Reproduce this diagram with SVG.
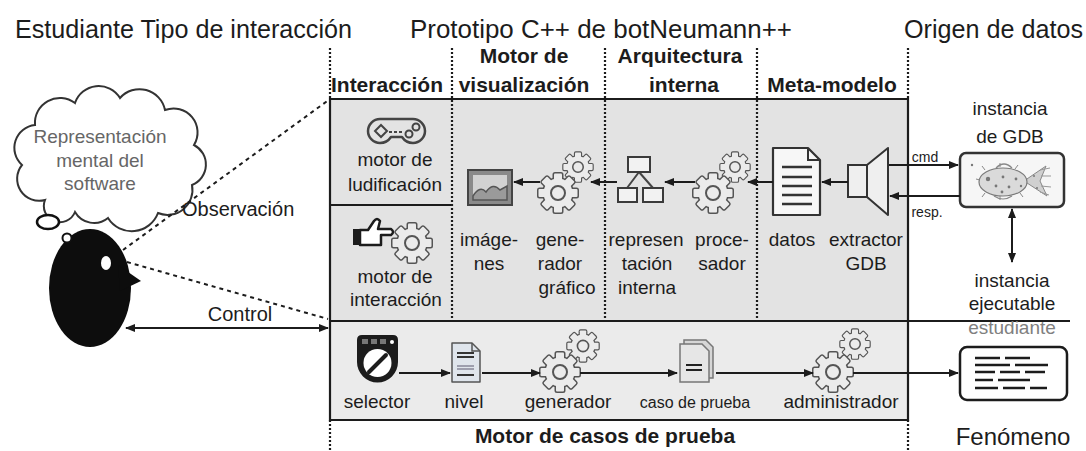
<svg xmlns="http://www.w3.org/2000/svg" xmlns:xlink="http://www.w3.org/1999/xlink" width="1086" height="451" viewBox="0 0 1086 451">
<style>
  .t{font-family:"Liberation Sans",Arial,sans-serif;fill:#1c1c1c}
  .title{font-size:25px}
  .hd{font-size:21px;font-weight:bold;text-anchor:middle}
  .lb{font-size:19px;text-anchor:middle}
  .frame{stroke:#1c1c1c;stroke-width:2.2;fill:none}
  .dot{stroke:#1c1c1c;stroke-width:2.2;stroke-dasharray:2 2;fill:none}
  .obs{stroke:#1c1c1c;stroke-width:2;stroke-dasharray:4 4;fill:none}
  .arr{stroke:#1c1c1c;stroke-width:2;fill:none;marker-end:url(#ah)}
  .arr2{stroke:#1c1c1c;stroke-width:2;fill:none;marker-end:url(#ah);marker-start:url(#ah)}
  .ico{stroke:#3a3a3a;stroke-width:2;fill:#f2f2f2}
</style>
<defs>
  <marker id="ah" viewBox="0 0 10 10" refX="9" refY="5" markerWidth="11" markerHeight="10" markerUnits="userSpaceOnUse" orient="auto-start-reverse">
    <path d="M0,1 L10,5 L0,9 z" fill="#1c1c1c"/>
  </marker>
  <!-- gear silhouette: body disc plus eight teeth -->
  <g id="gearShape">
    <circle r="14.5"/>
    <rect x="-4" y="-19.5" width="8" height="7.5" rx="1"/>
    <rect x="-4" y="-19.5" width="8" height="7.5" rx="1" transform="rotate(45)"/>
    <rect x="-4" y="-19.5" width="8" height="7.5" rx="1" transform="rotate(90)"/>
    <rect x="-4" y="-19.5" width="8" height="7.5" rx="1" transform="rotate(135)"/>
    <rect x="-4" y="-19.5" width="8" height="7.5" rx="1" transform="rotate(180)"/>
    <rect x="-4" y="-19.5" width="8" height="7.5" rx="1" transform="rotate(225)"/>
    <rect x="-4" y="-19.5" width="8" height="7.5" rx="1" transform="rotate(270)"/>
    <rect x="-4" y="-19.5" width="8" height="7.5" rx="1" transform="rotate(315)"/>
  </g>
  <g id="gear">
    <use xlink:href="#gearShape" fill="#555" stroke="#555" stroke-width="3"/>
    <use xlink:href="#gearShape" fill="#ebebeb" stroke="none"/>
    <circle r="7" fill="none" stroke="#555" stroke-width="2"/>
  </g>
</defs>

<rect width="1086" height="451" fill="#fff"/>

<!-- titles -->
<text class="t title" x="15" y="38" textLength="337" lengthAdjust="spacingAndGlyphs">Estudiante Tipo de interacción</text>
<text class="t title" x="410" y="38" textLength="382" lengthAdjust="spacingAndGlyphs">Prototipo C++ de botNeumann++</text>
<text class="t title" x="904" y="38" textLength="179" lengthAdjust="spacingAndGlyphs">Origen de datos</text>

<!-- panel backgrounds -->
<rect x="330" y="99" width="578" height="222" fill="#e3e3e3"/>
<rect x="330" y="321" width="578" height="99" fill="#ebebeb"/>

<!-- column headers -->
<text class="t hd" x="387" y="92">Interacción</text>
<text class="t hd" x="524" y="63">Motor de</text>
<text class="t hd" x="524" y="92">visualización</text>
<text class="t hd" x="680" y="63">Arquitectura</text>
<text class="t hd" x="684" y="92">interna</text>
<text class="t hd" x="832" y="92">Meta-modelo</text>
<text class="t hd" x="605" y="443">Motor de casos de prueba</text>

<!-- frame: solid borders and dotted column separators -->
<g id="frame">
  <path class="frame" d="M330,99 H908 V420 H330 Z"/>
  <path class="frame" d="M330,321 H1070"/>
  <path class="frame" d="M330,205 H452"/>
  <path class="dot" d="M330,48 V99 M452,48 V321 M605,48 V321 M757,48 V321 M908,48 V99 M330,420 V451 M908,420 V451"/>
</g>

<!-- student -->
<g id="estudiante">
  <path d="M45,200 A22,22 0 0 1 22,165 A23,23 0 0 1 35,125 A25,25 0 0 1 75,103 A25,25 0 0 1 120,98 A26,26 0 0 1 165,110 A24,24 0 0 1 194,145 A22,22 0 0 1 192,185 A25,25 0 0 1 158,213 A28,28 0 0 1 108,218 A22,22 0 0 1 75,212 A16,16 0 0 1 45,200 Z" fill="#fff" stroke="#333" stroke-width="2"/>
  <text class="t lb" x="100" y="143" style="fill:#666">Representación</text>
  <text class="t lb" x="100" y="167" style="fill:#666">mental del</text>
  <text class="t lb" x="100" y="190" style="fill:#666">software</text>
  <ellipse cx="48" cy="222" rx="11" ry="7" fill="#fff" stroke="#111" stroke-width="2.5"/>
  <ellipse cx="90" cy="288" rx="41" ry="59" fill="#0d0d0d"/>
  <circle cx="67" cy="238" r="4.5" fill="#fff" stroke="#111" stroke-width="2"/>
  <path d="M118,265 L141,281 L120,291 Z" fill="#0d0d0d"/>
  <ellipse cx="106" cy="263" rx="5" ry="7" fill="#fff"/>
</g>

<!-- interaction column -->
<g id="motor-ludificacion">
  <path d="M380,119 H413 A12,12 0 0 1 413,143 Q406,143 402,137 H391 Q387,143 380,143 A12,12 0 0 1 380,119 Z" fill="none" stroke="#444" stroke-width="2.5" stroke-linejoin="round"/>
  <path d="M381,125 L387,131 L381,137 L375,131 Z" fill="none" stroke="#444" stroke-width="2"/>
  <path d="M389,132 H402" stroke="#444" stroke-width="2" stroke-dasharray="3 2"/>
  <circle cx="409" cy="134" r="3.5" fill="none" stroke="#444" stroke-width="2"/>
  <circle cx="416" cy="127" r="3.5" fill="none" stroke="#444" stroke-width="2"/>
  <text class="t lb" x="395" y="166">motor de</text>
  <text class="t lb" x="395" y="191">ludificación</text>
</g>
<g id="motor-interaccion">
  <rect x="353" y="229" width="7" height="16" fill="#1c1c1c"/>
  <path d="M360,230 L368,230 L374,221 Q377,217 380,221 L378,229 L391,229 Q395,232 391,235 L381,235 L381,245 L360,245 Z" fill="#fff" stroke="#1c1c1c" stroke-width="2.5" stroke-linejoin="round"/>
  <use xlink:href="#gear" transform="translate(412,243)"/>
  <text class="t lb" x="395" y="283">motor de</text>
  <text class="t lb" x="396" y="306">interacción</text>
</g>

<!-- visualisation column -->
<g id="imagenes">
  <rect x="468" y="170" width="44" height="35" fill="#8a8a8a" stroke="#444" stroke-width="2"/>
  <rect x="473" y="175" width="34" height="25" fill="#d2d2d2"/>
  <path d="M473,196 Q480,185 486,192 Q493,182 500,190 L507,186 L507,200 L473,200 Z" fill="#9a9a9a" stroke="#555" stroke-width="1.5"/>
  <text class="t lb" x="489" y="246">imáge-</text>
  <text class="t lb" x="489" y="270">nes</text>
</g>
<g id="generador-grafico">
  <use xlink:href="#gear" transform="translate(578,167) scale(0.75)"/>
  <use xlink:href="#gear" transform="translate(558,193)"/>
  <text class="t lb" x="560" y="246">gene-</text>
  <text class="t lb" x="560" y="270">rador</text>
  <text class="t lb" x="567" y="294">gráfico</text>
</g>

<!-- internal architecture column -->
<g id="representacion-interna">
  <path d="M639,172 L627,188 M639,172 L653,188" stroke="#444" stroke-width="2"/>
  <rect x="628" y="157" width="22" height="15" class="ico"/>
  <rect x="618" y="188" width="19" height="14" class="ico"/>
  <rect x="643" y="188" width="20" height="14" class="ico"/>
  <text class="t lb" x="646" y="246">represen</text>
  <text class="t lb" x="647" y="270">tación</text>
  <text class="t lb" x="647" y="294">interna</text>
</g>
<g id="procesador">
  <use xlink:href="#gear" transform="translate(735,167) scale(0.75)"/>
  <use xlink:href="#gear" transform="translate(713,193)"/>
  <text class="t lb" x="722" y="246">proce-</text>
  <text class="t lb" x="722" y="270">sador</text>
</g>

<!-- meta-model column -->
<g id="datos">
  <path d="M773,148 L808,148 L820,160 L820,215 L773,215 Z" fill="#f7f7f7" stroke="#333" stroke-width="2.2" stroke-linejoin="round"/>
  <path d="M808,148 L808,160 L820,160" fill="none" stroke="#333" stroke-width="2"/>
  <path d="M782,167 H812 M782,177 H812 M782,186 H812 M782,195 H812 M782,204 H812" stroke="#333" stroke-width="2.5"/>
  <text class="t lb" x="792" y="246">datos</text>
</g>
<g id="extractor-gdb">
  <rect x="848" y="165" width="19" height="32" fill="#efefef" stroke="#333" stroke-width="2"/>
  <path d="M867,165 L888,148 L888,215 L867,197 Z" fill="#efefef" stroke="#333" stroke-width="2" stroke-linejoin="round"/>
  <text class="t lb" x="866" y="246">extractor</text>
  <text class="t lb" x="866" y="270">GDB</text>
</g>

<!-- data sources -->
<g id="instancia-gdb">
  <text class="t lb" x="1010" y="115">instancia</text>
  <text class="t lb" x="1010" y="143">de GDB</text>
  <rect x="960" y="153" width="104" height="54" rx="6" fill="#f6f6f6" stroke="#333" stroke-width="2.5"/>
  <!-- pufferfish -->
  <path d="M1024,181 L1046,166 L1040,181 L1047,196 Z" fill="#d0d0d0" stroke="#888" stroke-width="1"/>
  <path d="M1040,170 L1050,168 M1041,176 L1051,176 M1041,186 L1051,187 M1040,192 L1049,195" stroke="#999" stroke-width="1"/>
  <ellipse cx="1003" cy="182" rx="24" ry="14" fill="#dadada" stroke="#7a7a7a" stroke-width="1.2"/>
  <path d="M996,168 Q1004,160 1012,168 M994,196 Q1003,202 1012,196" fill="none" stroke="#888" stroke-width="1.2"/>
  <path d="M980,180 L976,179 M985,170 L982,166 M1000,167 L1000,163 M1015,169 L1018,165 M1020,193 L1023,197 M1000,196 L1000,200 M985,193 L982,197" stroke="#888" stroke-width="1"/>
  <g fill="#777">
    <circle cx="988" cy="179" r="2.2"/>
    <circle cx="996" cy="186" r="1.4"/>
    <circle cx="1003" cy="177" r="1.4"/>
    <circle cx="1009" cy="187" r="1.4"/>
    <circle cx="1016" cy="179" r="1.4"/>
    <circle cx="1002" cy="192" r="1.4"/>
    <circle cx="1021" cy="186" r="1.2"/>
    <circle cx="1034" cy="176" r="1"/>
    <circle cx="1037" cy="188" r="1"/>
    <circle cx="972" cy="165" r="1.2"/>
  </g>
</g>
<g id="instancia-ejecutable">
  <text class="t lb" x="1012" y="287">instancia</text>
  <text class="t lb" x="1012" y="310">ejecutable</text>
  <text class="t lb" x="1012" y="334" style="fill:#808080">estudiante</text>
</g>

<!-- test case engine -->
<g id="selector">
  <path d="M357,340 Q357,335 362,335 L393,335 Q398,335 398,340 L398,362 A20.5,20.5 0 0 1 357,362 Z" fill="#1c1c1c"/>
  <circle cx="377.5" cy="363" r="14" fill="#fff"/>
  <line x1="369" y1="372" x2="386" y2="355" stroke="#1c1c1c" stroke-width="4" stroke-linecap="round"/>
  <rect x="362" y="339" width="6" height="5" fill="#777"/>
  <rect x="371" y="339" width="6" height="5" fill="#777"/>
  <rect x="380" y="339" width="6" height="5" fill="#777"/>
  <circle cx="392" cy="342" r="2" fill="#fff"/>
  <text class="t lb" x="377" y="408">selector</text>
</g>
<g id="nivel">
  <path d="M452,343 L472,343 L480,351 L480,382 L452,382 Z" fill="#dfe5ec" stroke="#555" stroke-width="1.5" stroke-linejoin="round"/>
  <path d="M472,343 L472,351 L480,351" fill="none" stroke="#555" stroke-width="1.5"/>
  <path d="M457,353 H474 M457,357 H474" stroke="#333" stroke-width="2"/>
  <path d="M457,366 H474 M457,369 H474" stroke="#889" stroke-width="1.5"/>
  <path d="M457,375 H474" stroke="#333" stroke-width="2"/>
  <text class="t lb" x="464" y="408">nivel</text>
</g>
<g id="generador">
  <use xlink:href="#gear" transform="translate(583,346) scale(0.8)"/>
  <use xlink:href="#gear" transform="translate(560,372)"/>
  <text class="t lb" x="568" y="408">generador</text>
</g>
<g id="caso-de-prueba">
  <path d="M684,340 L706,340 L713,347 L713,378 L684,378 Z" fill="#d6d6d6" stroke="#777" stroke-width="1.5"/>
  <path d="M680,344 L702,344 L709,351 L709,382 L680,382 Z" fill="#e6e6e6" stroke="#777" stroke-width="1.5"/>
  <path d="M686,365 H702 M686,370 H702" stroke="#222" stroke-width="2"/>
  <text class="t lb" x="695" y="408" style="font-size:16px">caso de prueba</text>
</g>
<g id="administrador">
  <use xlink:href="#gear" transform="translate(855,344) scale(0.75)"/>
  <use xlink:href="#gear" transform="translate(833,372)"/>
  <text class="t lb" x="841" y="408">administrador</text>
</g>
<g id="fenomeno">
  <rect x="960" y="347" width="107" height="53" rx="7" fill="#fff" stroke="#1c1c1c" stroke-width="2.5"/>
  <path d="M975,358 H1000 M1005,358 H1030 M975,365 H1010 M1015,365 H1048 M975,372 H995 M1000,372 H1020 M1025,372 H1045 M975,380 H993 M998,380 H1030 M975,388 H998 M1003,388 H1025 M1030,388 H1047" stroke="#1c1c1c" stroke-width="2.5"/>
  <text class="t" x="1013" y="445" style="font-size:24px;text-anchor:middle">Fenómeno</text>
</g>

<!-- connectors -->
<g id="connectors">
  <path class="obs" d="M123,250 L330,99"/>
  <path class="obs" d="M127,262 L328,319"/>
  <text class="t" x="182" y="216" style="font-size:20px">Observación</text>
  <path class="arr2" d="M126,328 H328"/>
  <text class="t" x="240" y="321" style="font-size:20px;text-anchor:middle">Control</text>

  <path class="arr" d="M848,182 H822"/>
  <path class="arr" d="M773,182 H748"/>
  <path class="arr" d="M695,182 H665"/>
  <path class="arr" d="M617,182 H591"/>
  <path class="arr" d="M540,182 H514"/>

  <path class="arr" d="M889,165 H958"/>
  <text class="t" x="925" y="162" style="font-size:14px;text-anchor:middle">cmd</text>
  <path class="arr" d="M960,196 H890"/>
  <text class="t" x="927" y="217" style="font-size:14px;text-anchor:middle">resp.</text>
  <path class="arr2" d="M1012,209 V262"/>

  <path class="arr" d="M399,373 H450"/>
  <path class="arr" d="M482,373 H540"/>
  <path class="arr" d="M580,373 H677"/>
  <path class="arr" d="M716,373 H813"/>
  <path class="arr" d="M853,373 H958"/>
</g>
</svg>
